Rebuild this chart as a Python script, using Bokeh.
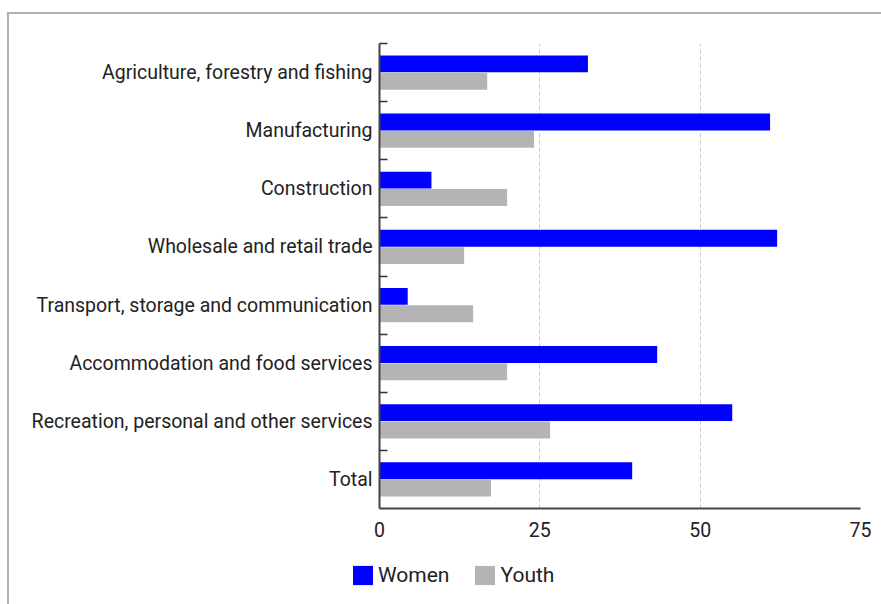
from bokeh.plotting import figure
from bokeh.models import FixedTicker, Legend, LegendItem, Range1d, ColumnDataSource
from bokeh.layouts import column, row
from bokeh.embed import file_html
from bokeh.resources import INLINE

categories = [
    "Agriculture, forestry and fishing",
    "Manufacturing",
    "Construction",
    "Wholesale and retail trade",
    "Transport, storage and communication",
    "Accommodation and food services",
    "Recreation, personal and other services",
    "Total",
]
women = [32.5, 60.9, 8.1, 62.0, 4.4, 43.3, 55.0, 39.4]
youth = [16.8, 24.1, 19.9, 13.2, 14.6, 19.9, 26.6, 17.4]
x_ticks = [0, 25, 50, 75]
series_names = ["Women", "Youth"]
series_colors = ["#0000ff", "#b4b4b4"]

n = len(categories)
centers = [n - 0.5 - i for i in range(n)]

p = figure(width=872, height=534, output_backend="svg", toolbar_location=None,
           x_range=Range1d(0, 75), y_range=Range1d(0, n),
           min_border_left=370, min_border_right=21, min_border_top=29, min_border_bottom=40)
p.background_fill_color = "white"
p.border_fill_color = "white"
p.outline_line_color = None

src_w = ColumnDataSource(dict(y=[c + 0.15 for c in centers], v=women))
src_y = ColumnDataSource(dict(y=[c - 0.15 for c in centers], v=youth))
p.hbar(y="y", right="v", left=0, height=0.29, source=src_w, fill_color=series_colors[0], line_color=None)
p.hbar(y="y", right="v", left=0, height=0.29, source=src_y, fill_color=series_colors[1], line_color=None)

xa = p.xaxis[0]
xa.ticker = FixedTicker(ticks=x_ticks)
xa.major_tick_line_color = None
xa.major_tick_in = 0
xa.major_tick_out = 0
xa.minor_tick_line_color = None
xa.axis_line_color = "#444444"
xa.axis_line_width = 2
xa.major_label_text_font = "Roboto"
xa.major_label_text_font_size = "19.5px"
xa.major_label_text_color = "#222222"
xa.major_label_standoff = 13

ya = p.yaxis[0]
ya.ticker = FixedTicker(ticks=centers, minor_ticks=list(range(1, n + 1)))
ya.major_label_overrides = {c: name for c, name in zip(centers, categories)}
ya.major_tick_line_color = None
ya.major_tick_in = 0
ya.major_tick_out = 0
ya.minor_tick_in = 8
ya.minor_tick_out = 0
ya.minor_tick_line_color = "#333333"
ya.minor_tick_line_width = 1.5
ya.axis_line_color = "#444444"
ya.axis_line_width = 2
ya.major_label_text_font = "Roboto"
ya.major_label_text_font_size = "19.5px"
ya.major_label_text_color = "#222222"
ya.major_label_standoff = 7

p.xgrid.ticker = FixedTicker(ticks=x_ticks[1:])
p.xgrid.grid_line_color = "#c8c8c8"
p.xgrid.grid_line_dash = "4 3"
p.xgrid.grid_line_width = 1
p.ygrid.grid_line_color = None

# legend strip below the chart (swatch renderers have zero width, so draw nothing)
leg = figure(width=872, height=56, output_backend="svg", toolbar_location=None,
             x_range=Range1d(0, 1), y_range=Range1d(0, 1),
             min_border_left=0, min_border_right=0, min_border_top=0, min_border_bottom=0)
leg.axis.visible = False
leg.grid.visible = False
leg.outline_line_color = None
leg.background_fill_color = "white"
leg.border_fill_color = "white"
items = []
for name, col in zip(series_names, series_colors):
    r = leg.hbar(y=[0.5], right=[0], left=0, height=0.1, fill_color=col, line_color=None)
    items.append(LegendItem(label=name, renderers=[r]))
legend = Legend(items=items, orientation="horizontal", location=(341, 17),
                border_line_color=None, background_fill_alpha=0,
                padding=0, margin=0, spacing=23, label_standoff=3,
                glyph_width=25, glyph_height=24,
                label_text_font="Roboto", label_text_font_size="21px",
                label_text_color="#222222")
leg.add_layout(legend, "center")

lay = column(p, row(leg, spacing=0), spacing=0)
lay.margin = (12, 0, 0, 7)
lay.styles = {"border-left": "2px solid #b0b0b0", "border-top": "2px solid #b0b0b0"}

open("out.html", "w").write(file_html(lay, INLINE))
